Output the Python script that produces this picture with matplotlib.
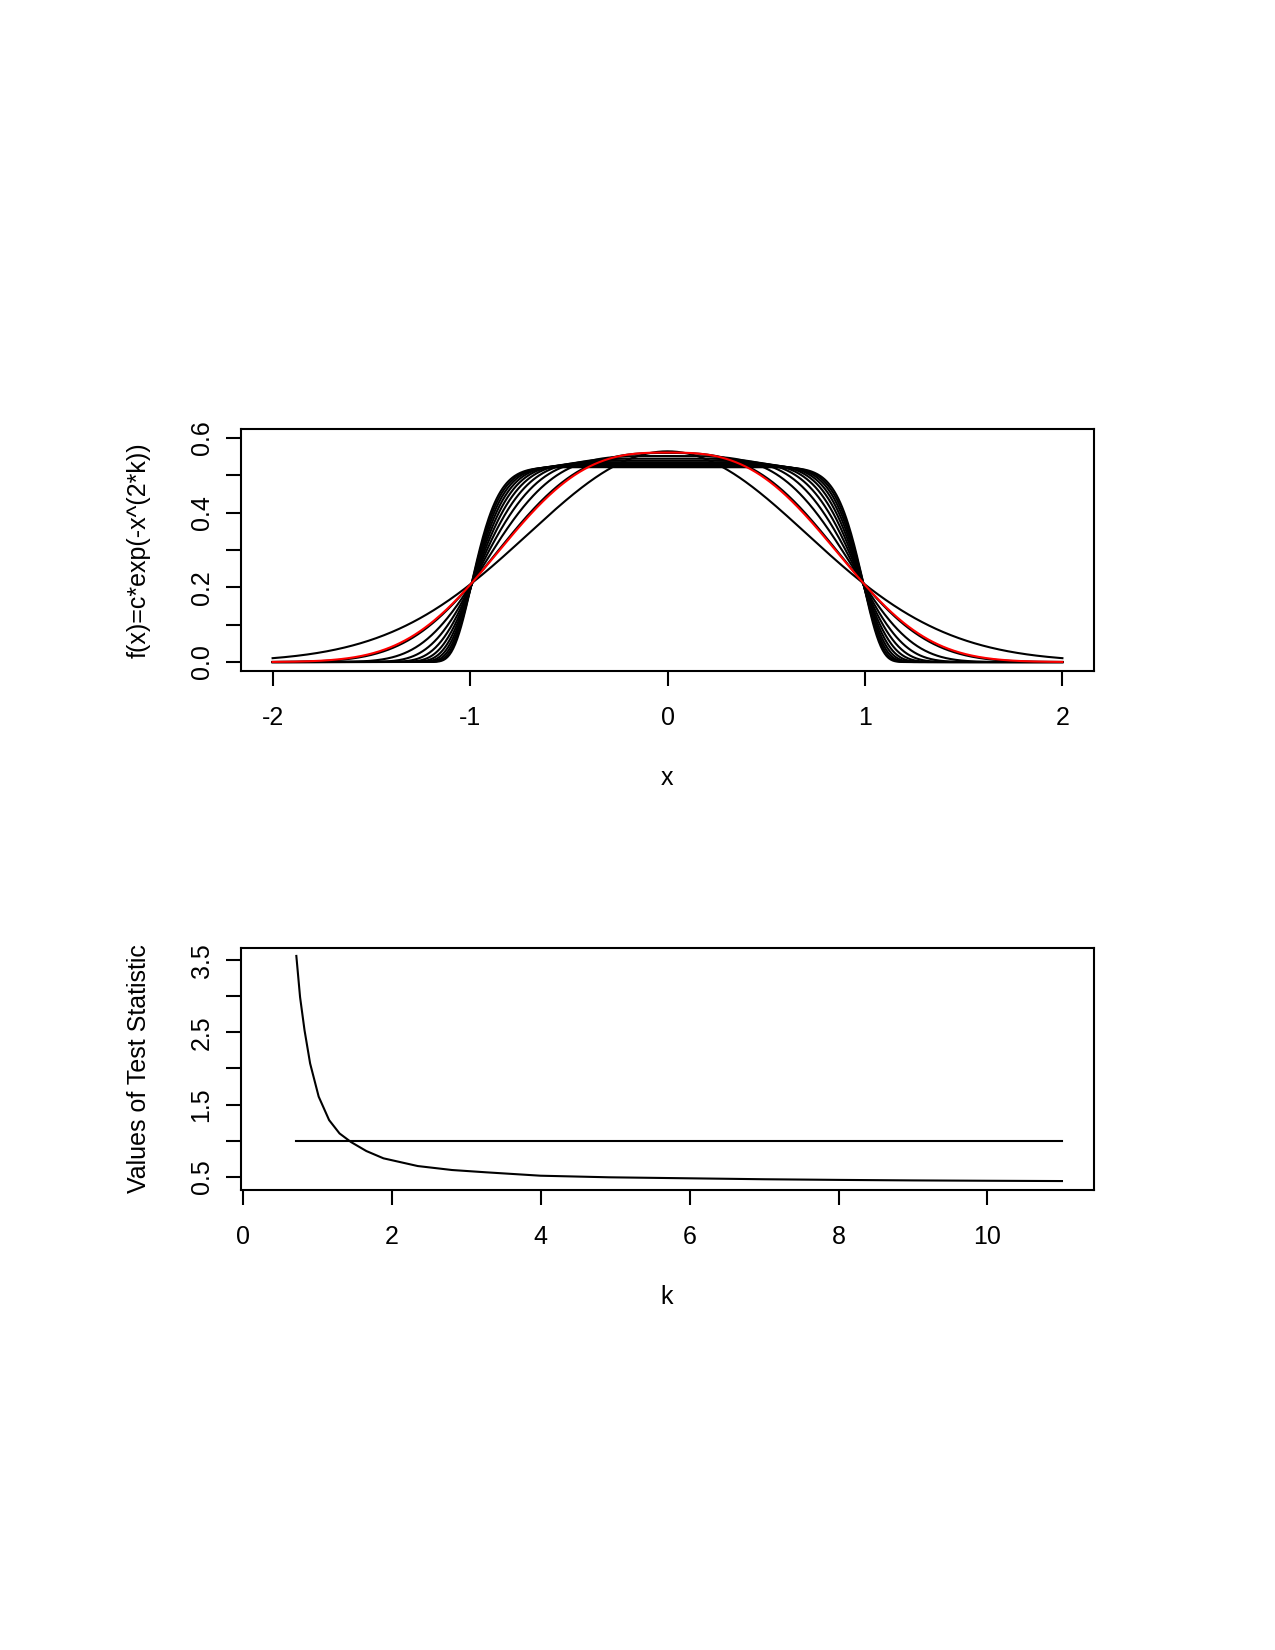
import math
import numpy as np
import matplotlib.pyplot as plt

plt.rcParams['font.family'] = ['Liberation Sans', 'DejaVu Sans']
plt.rcParams['font.size'] = 12

# top panel: densities c*exp(-x^(2k)) for several k, red one is the chosen k
k_black = [1, 1.5, 2, 2.5, 3, 3.5, 4, 4.5, 5, 5.5, 6]
k_red = 1.44

# bottom panel: test statistic
k_stat = [0.72, 0.77, 0.83, 0.905, 1.02, 1.16, 1.3, 1.455, 1.66, 1.89,
          2.35, 2.81, 3.27, 4.0, 4.92, 6.0, 7.0, 8.0, 9.0, 10.0, 11.0]
stat = [3.56, 2.99, 2.53, 2.07, 1.61, 1.285, 1.10, 0.98, 0.856, 0.755,
        0.648, 0.593, 0.561, 0.514, 0.492, 0.478, 0.465, 0.456, 0.449, 0.444, 0.44]
crit = 1.0


def dens(x, k):
    c = 1 / (2 * math.gamma(1 + 1 / (2 * k)))
    return c * np.exp(-np.abs(x) ** (2 * k))


W, H = 1275, 1650
fig = plt.figure(figsize=(8.5, 11), dpi=150)


def frac_axes(l, t, r, b):
    return fig.add_axes([l / W, 1 - b / H, (r - l) / W, (b - t) / H])


def style(ax):
    for s in ax.spines.values():
        s.set_linewidth(1.0)
    ax.tick_params(length=7.2, width=1.0, direction='out')
    ax.tick_params(axis='x', pad=9.5)
    ax.tick_params(axis='y', pad=6, labelrotation=90)
    for lab in ax.get_yticklabels():
        lab.set_va('center')


# ---- top
ax1 = frac_axes(241, 429, 1094, 671)
x = np.linspace(-2, 2, 801)
for k in k_black:
    ax1.plot(x, dens(x, k), color='black', lw=1.0)
ax1.plot(x, dens(x, k_red), color='red', lw=1.0)
ax1.set_xlim(-2.16, 2.16)
ax1.set_ylim(-0.024, 0.624)
ax1.set_xticks([-2, -1, 0, 1, 2])
ax1.set_xticklabels(['-2', '-1', '0', '1', '2'])
yt = [0.0, 0.1, 0.2, 0.3, 0.4, 0.5, 0.6]
ax1.set_yticks(yt)
ax1.set_yticklabels(['0.0', '', '0.2', '', '0.4', '', '0.6'])
style(ax1)
fig.text(667 / W, 1 - 778 / H, 'x', ha='center', va='center', fontsize=12)
fig.text(139 / W, 1 - 550 / H, 'f(x)=c*exp(-x^(2*k))', rotation=90,
         ha='center', va='center', fontsize=12)

# ---- bottom
ax2 = frac_axes(241, 948, 1094, 1190)
ax2.plot(k_stat, stat, color='black', lw=1.0)
ax2.plot([min(k_stat), max(k_stat)], [crit, crit], color='black', lw=1.0)
ax2.set_xlim(-0.023, 11.43)
ax2.set_ylim(0.316, 3.67)
ax2.set_xticks([0, 2, 4, 6, 8, 10])
ax2.set_yticks([0.5, 1.0, 1.5, 2.0, 2.5, 3.0, 3.5])
ax2.set_yticklabels(['0.5', '', '1.5', '', '2.5', '', '3.5'])
style(ax2)
fig.text(667 / W, 1 - 1297 / H, 'k', ha='center', va='center', fontsize=12)
fig.text(139 / W, 1 - 1069 / H, 'Values of Test Statistic', rotation=90,
         ha='center', va='center', fontsize=12)

fig.savefig('out.png', dpi=150)
